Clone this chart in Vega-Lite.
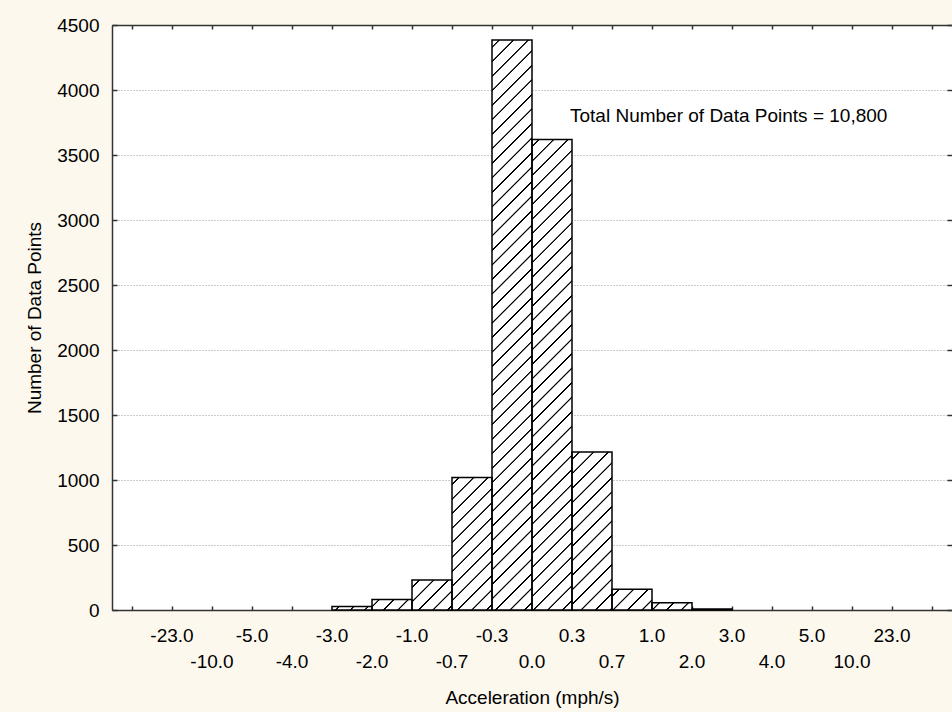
{
  "$schema": "https://vega.github.io/schema/vega-lite/v6.json",
  "autosize": {"type": "none"},
  "padding": {"left": 112, "top": 25, "right": 0, "bottom": 102},
  "width": 840,
  "height": 585,
  "background": "#FCF8EE",
  "config": {
    "view": {"fill": "white", "stroke": null},
    "font": "Liberation Sans",
    "axis": {
      "labelFont": "Liberation Sans",
      "labelFontSize": 19,
      "labelColor": "#000",
      "titleFont": "Liberation Sans",
      "titleFontSize": 19,
      "titleFontWeight": "normal",
      "titleColor": "#000",
      "domainColor": "#333",
      "domainWidth": 1.5,
      "tickColor": "#333",
      "tickWidth": 1.5
    }
  },
  "data": {
    "values": [
      {"from": "-inf", "to": "-23.0", "count": 0},
      {"from": "-23.0", "to": "-10.0", "count": 0},
      {"from": "-10.0", "to": "-5.0", "count": 0},
      {"from": "-5.0", "to": "-4.0", "count": 0},
      {"from": "-4.0", "to": "-3.0", "count": 0},
      {"from": "-3.0", "to": "-2.0", "count": 27},
      {"from": "-2.0", "to": "-1.0", "count": 80},
      {"from": "-1.0", "to": "-0.7", "count": 230},
      {"from": "-0.7", "to": "-0.3", "count": 1020},
      {"from": "-0.3", "to": "0.0", "count": 4385},
      {"from": "0.0", "to": "0.3", "count": 3620},
      {"from": "0.3", "to": "0.7", "count": 1215},
      {"from": "0.7", "to": "1.0", "count": 160},
      {"from": "1.0", "to": "2.0", "count": 55},
      {"from": "2.0", "to": "3.0", "count": 8},
      {"from": "3.0", "to": "4.0", "count": 0},
      {"from": "4.0", "to": "5.0", "count": 0},
      {"from": "5.0", "to": "10.0", "count": 0},
      {"from": "10.0", "to": "23.0", "count": 0},
      {"from": "23.0", "to": "+inf", "count": 0}
    ]
  },
  "resolve": {"axis": {"x": "independent", "y": "independent"}},
  "layer": [
    {
      "mark": {
        "type": "bar",
        "clip": true,
        "y2Offset": 1170,
        "stroke": null,
        "fill": {
          "gradient": "linear",
          "x1": 0, "y1": 0, "x2": 0.035316, "y2": 1.032981,
          "stops": [
            {"offset": 0.005, "color": "#fff"}, {"offset": 0.0055, "color": "#000"}, {"offset": 0.0065, "color": "#000"}, {"offset": 0.007, "color": "#fff"},
            {"offset": 0.017, "color": "#fff"}, {"offset": 0.0175, "color": "#000"}, {"offset": 0.0185, "color": "#000"}, {"offset": 0.019, "color": "#fff"},
            {"offset": 0.029, "color": "#fff"}, {"offset": 0.0295, "color": "#000"}, {"offset": 0.0305, "color": "#000"}, {"offset": 0.031, "color": "#fff"},
            {"offset": 0.041, "color": "#fff"}, {"offset": 0.0415, "color": "#000"}, {"offset": 0.0425, "color": "#000"}, {"offset": 0.043, "color": "#fff"},
            {"offset": 0.053, "color": "#fff"}, {"offset": 0.0535, "color": "#000"}, {"offset": 0.0545, "color": "#000"}, {"offset": 0.055, "color": "#fff"},
            {"offset": 0.065, "color": "#fff"}, {"offset": 0.0655, "color": "#000"}, {"offset": 0.0665, "color": "#000"}, {"offset": 0.067, "color": "#fff"},
            {"offset": 0.077, "color": "#fff"}, {"offset": 0.0775, "color": "#000"}, {"offset": 0.0785, "color": "#000"}, {"offset": 0.079, "color": "#fff"},
            {"offset": 0.089, "color": "#fff"}, {"offset": 0.0895, "color": "#000"}, {"offset": 0.0905, "color": "#000"}, {"offset": 0.091, "color": "#fff"},
            {"offset": 0.101, "color": "#fff"}, {"offset": 0.1015, "color": "#000"}, {"offset": 0.1025, "color": "#000"}, {"offset": 0.103, "color": "#fff"},
            {"offset": 0.113, "color": "#fff"}, {"offset": 0.1135, "color": "#000"}, {"offset": 0.1145, "color": "#000"}, {"offset": 0.115, "color": "#fff"},
            {"offset": 0.125, "color": "#fff"}, {"offset": 0.1255, "color": "#000"}, {"offset": 0.1265, "color": "#000"}, {"offset": 0.127, "color": "#fff"},
            {"offset": 0.137, "color": "#fff"}, {"offset": 0.1375, "color": "#000"}, {"offset": 0.1385, "color": "#000"}, {"offset": 0.139, "color": "#fff"},
            {"offset": 0.149, "color": "#fff"}, {"offset": 0.1495, "color": "#000"}, {"offset": 0.1505, "color": "#000"}, {"offset": 0.151, "color": "#fff"},
            {"offset": 0.161, "color": "#fff"}, {"offset": 0.1615, "color": "#000"}, {"offset": 0.1625, "color": "#000"}, {"offset": 0.163, "color": "#fff"},
            {"offset": 0.173, "color": "#fff"}, {"offset": 0.1735, "color": "#000"}, {"offset": 0.1745, "color": "#000"}, {"offset": 0.175, "color": "#fff"},
            {"offset": 0.185, "color": "#fff"}, {"offset": 0.1855, "color": "#000"}, {"offset": 0.1865, "color": "#000"}, {"offset": 0.187, "color": "#fff"},
            {"offset": 0.197, "color": "#fff"}, {"offset": 0.1975, "color": "#000"}, {"offset": 0.1985, "color": "#000"}, {"offset": 0.199, "color": "#fff"},
            {"offset": 0.209, "color": "#fff"}, {"offset": 0.2095, "color": "#000"}, {"offset": 0.2105, "color": "#000"}, {"offset": 0.211, "color": "#fff"},
            {"offset": 0.221, "color": "#fff"}, {"offset": 0.2215, "color": "#000"}, {"offset": 0.2225, "color": "#000"}, {"offset": 0.223, "color": "#fff"},
            {"offset": 0.233, "color": "#fff"}, {"offset": 0.2335, "color": "#000"}, {"offset": 0.2345, "color": "#000"}, {"offset": 0.235, "color": "#fff"},
            {"offset": 0.245, "color": "#fff"}, {"offset": 0.2455, "color": "#000"}, {"offset": 0.2465, "color": "#000"}, {"offset": 0.247, "color": "#fff"},
            {"offset": 0.257, "color": "#fff"}, {"offset": 0.2575, "color": "#000"}, {"offset": 0.2585, "color": "#000"}, {"offset": 0.259, "color": "#fff"},
            {"offset": 0.269, "color": "#fff"}, {"offset": 0.2695, "color": "#000"}, {"offset": 0.2705, "color": "#000"}, {"offset": 0.271, "color": "#fff"},
            {"offset": 0.281, "color": "#fff"}, {"offset": 0.2815, "color": "#000"}, {"offset": 0.2825, "color": "#000"}, {"offset": 0.283, "color": "#fff"},
            {"offset": 0.293, "color": "#fff"}, {"offset": 0.2935, "color": "#000"}, {"offset": 0.2945, "color": "#000"}, {"offset": 0.295, "color": "#fff"},
            {"offset": 0.305, "color": "#fff"}, {"offset": 0.3055, "color": "#000"}, {"offset": 0.3065, "color": "#000"}, {"offset": 0.307, "color": "#fff"},
            {"offset": 0.317, "color": "#fff"}, {"offset": 0.3175, "color": "#000"}, {"offset": 0.3185, "color": "#000"}, {"offset": 0.319, "color": "#fff"},
            {"offset": 0.329, "color": "#fff"}, {"offset": 0.3295, "color": "#000"}, {"offset": 0.3305, "color": "#000"}, {"offset": 0.331, "color": "#fff"},
            {"offset": 0.341, "color": "#fff"}, {"offset": 0.3415, "color": "#000"}, {"offset": 0.3425, "color": "#000"}, {"offset": 0.343, "color": "#fff"},
            {"offset": 0.353, "color": "#fff"}, {"offset": 0.3535, "color": "#000"}, {"offset": 0.3545, "color": "#000"}, {"offset": 0.355, "color": "#fff"},
            {"offset": 0.365, "color": "#fff"}, {"offset": 0.3655, "color": "#000"}, {"offset": 0.3665, "color": "#000"}, {"offset": 0.367, "color": "#fff"},
            {"offset": 0.377, "color": "#fff"}, {"offset": 0.3775, "color": "#000"}, {"offset": 0.3785, "color": "#000"}, {"offset": 0.379, "color": "#fff"},
            {"offset": 0.389, "color": "#fff"}, {"offset": 0.3895, "color": "#000"}, {"offset": 0.3905, "color": "#000"}, {"offset": 0.391, "color": "#fff"},
            {"offset": 0.401, "color": "#fff"}, {"offset": 0.4015, "color": "#000"}, {"offset": 0.4025, "color": "#000"}, {"offset": 0.403, "color": "#fff"},
            {"offset": 0.413, "color": "#fff"}, {"offset": 0.4135, "color": "#000"}, {"offset": 0.4145, "color": "#000"}, {"offset": 0.415, "color": "#fff"},
            {"offset": 0.425, "color": "#fff"}, {"offset": 0.4255, "color": "#000"}, {"offset": 0.4265, "color": "#000"}, {"offset": 0.427, "color": "#fff"},
            {"offset": 0.437, "color": "#fff"}, {"offset": 0.4375, "color": "#000"}, {"offset": 0.4385, "color": "#000"}, {"offset": 0.439, "color": "#fff"},
            {"offset": 0.449, "color": "#fff"}, {"offset": 0.4495, "color": "#000"}, {"offset": 0.4505, "color": "#000"}, {"offset": 0.451, "color": "#fff"},
            {"offset": 0.461, "color": "#fff"}, {"offset": 0.4615, "color": "#000"}, {"offset": 0.4625, "color": "#000"}, {"offset": 0.463, "color": "#fff"},
            {"offset": 0.473, "color": "#fff"}, {"offset": 0.4735, "color": "#000"}, {"offset": 0.4745, "color": "#000"}, {"offset": 0.475, "color": "#fff"},
            {"offset": 0.485, "color": "#fff"}, {"offset": 0.4855, "color": "#000"}, {"offset": 0.4865, "color": "#000"}, {"offset": 0.487, "color": "#fff"},
            {"offset": 0.497, "color": "#fff"}, {"offset": 0.4975, "color": "#000"}, {"offset": 0.4985, "color": "#000"}, {"offset": 0.499, "color": "#fff"},
            {"offset": 0.509, "color": "#fff"}, {"offset": 0.5095, "color": "#000"}, {"offset": 0.5105, "color": "#000"}, {"offset": 0.511, "color": "#fff"},
            {"offset": 0.521, "color": "#fff"}, {"offset": 0.5215, "color": "#000"}, {"offset": 0.5225, "color": "#000"}, {"offset": 0.523, "color": "#fff"}
          ]
        }
      },
      "encoding": {
        "x": {
          "field": "to",
          "type": "nominal",
          "sort": null,
          "scale": {
            "domain": ["-23.0", "-10.0", "-5.0", "-4.0", "-3.0", "-2.0", "-1.0", "-0.7", "-0.3", "0.0", "0.3", "0.7", "1.0", "2.0", "3.0", "4.0", "5.0", "10.0", "23.0", "+inf"],
            "paddingInner": 0,
            "paddingOuter": 0.5
          },
          "axis": {
            "orient": "bottom",
            "title": "Acceleration (mph/s)",
            "titlePadding": 17,
            "bandPosition": 1,
            "tickExtra": true,
            "tickSize": -4,
            "labelPadding": 20,
            "labelOffset": 20,
            "labelAngle": 0,
            "labelBaseline": "top",
            "labelLineHeight": 26,
            "labelOverlap": false,
            "labelExpr": "indexof(['-10.0','-4.0','-2.0','-0.7','0.0','0.7','2.0','4.0','10.0'], datum.value) >= 0 ? ['\u00a0', datum.value] : (datum.value == '+inf' ? '' : datum.value)"
          }
        },
        "y": {
          "field": "count",
          "type": "quantitative",
          "scale": {"domain": [0, 4500], "nice": false},
          "axis": {
            "orient": "left",
            "title": "Number of Data Points",
            "titlePadding": 12,
            "values": [0, 500, 1000, 1500, 2000, 2500, 3000, 3500, 4000, 4500],
            "format": "d",
            "tickSize": -5,
            "labelPadding": 18,
            "grid": true,
            "gridColor": "#999",
            "gridDash": [1, 2],
            "gridWidth": 1
          }
        },
        "y2": {"field": "count"}
      }
    },
    {
      "transform": [{"filter": "datum.count > 0"}],
      "mark": {"type": "bar", "fillOpacity": 0, "stroke": "#000", "strokeWidth": 1.5},
      "encoding": {
        "x": {
          "field": "to",
          "type": "nominal",
          "sort": null,
          "axis": {
            "orient": "top",
            "title": null,
            "labels": false,
            "bandPosition": 1,
            "tickExtra": true,
            "tickSize": -4
          }
        },
        "y": {
          "field": "count",
          "type": "quantitative",
          "axis": {
            "orient": "right",
            "title": null,
            "labels": false,
            "values": [0, 500, 1000, 1500, 2000, 2500, 3000, 3500, 4000, 4500],
            "tickSize": -5,
            "grid": false,
            "domainColor": "#777",
            "domainWidth": 1
          }
        }
      }
    },
    {
      "data": {"values": [{"note": "Total Number of Data Points = 10,800"}]},
      "mark": {"type": "text", "align": "left", "baseline": "middle", "dx": 18, "fontSize": 19, "font": "Liberation Sans", "color": "#000"},
      "encoding": {
        "text": {"field": "note"},
        "x": {"datum": "0.3", "type": "nominal", "axis": null},
        "y": {"datum": 3800, "type": "quantitative", "axis": null}
      }
    }
  ]
}
